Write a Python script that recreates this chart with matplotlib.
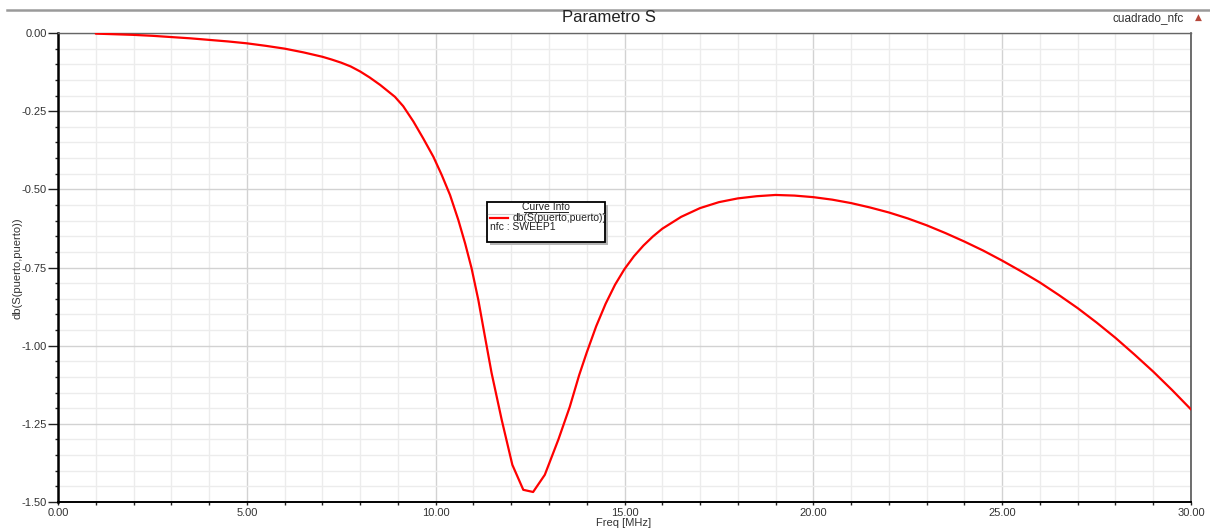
import matplotlib
matplotlib.use("Agg")
import matplotlib.pyplot as plt
from matplotlib.ticker import MultipleLocator, FormatStrFormatter
from matplotlib.patches import Rectangle
from matplotlib.lines import Line2D

plt.rcParams["font.family"] = ["Liberation Sans", "DejaVu Sans"]

# Return loss sweep (MHz, dB)
freq_mhz = [1.0, 1.5, 2.0, 2.5, 3.0, 3.5, 4.0, 4.5, 5.0, 5.5, 6.0, 6.5, 7.0,
            7.25, 7.5, 7.75, 8.0, 8.25, 8.53, 8.92, 9.14, 9.41, 9.67, 9.94,
            10.16, 10.38, 10.60, 10.78, 10.95, 11.13, 11.30, 11.48, 11.75,
            12.03, 12.32, 12.58, 12.89, 13.25, 13.55, 13.8, 14.0, 14.25, 14.5,
            14.75, 15.0, 15.25, 15.5, 15.75, 16.0, 16.5, 17.0, 17.5, 18.0,
            18.5, 19.0, 19.5, 20.0, 20.5, 21.0, 21.5, 22.0, 22.5, 23.0, 23.5,
            24.0, 24.5, 25.0, 25.5, 26.0, 26.5, 27.0, 27.5, 28.0, 28.5, 29.0,
            29.5, 30.0]
s11_db = [-0.002, -0.004, -0.006, -0.009, -0.013, -0.017, -0.022, -0.027,
          -0.033, -0.041, -0.050, -0.062, -0.076, -0.085, -0.095, -0.107,
          -0.123, -0.142, -0.166, -0.204, -0.234, -0.283, -0.337, -0.396,
          -0.454, -0.518, -0.598, -0.673, -0.752, -0.854, -0.968, -1.087,
          -1.238, -1.381, -1.461, -1.468, -1.413, -1.300, -1.196, -1.094,
          -1.022, -0.938, -0.866, -0.805, -0.755, -0.714, -0.680, -0.651,
          -0.626, -0.588, -0.560, -0.541, -0.529, -0.522, -0.518, -0.520,
          -0.525, -0.533, -0.544, -0.558, -0.574, -0.593, -0.615, -0.640,
          -0.667, -0.696, -0.728, -0.762, -0.798, -0.838, -0.880, -0.926,
          -0.975, -1.028, -1.083, -1.142, -1.204]

title_text = "Parametro S"
project_name = "cuadrado_nfc"
x_label = "Freq [MHz]"
y_label = "db(S(puerto,puerto))"
trace_name = "db(S(puerto,puerto))"
sweep_name = "nfc : SWEEP1"

W, H = 1210, 530
fig = plt.figure(figsize=(W / 100, H / 100), dpi=100)


def fx(px):
    return px / W


def fy(py):
    return 1 - py / H


ax = fig.add_axes([fx(58), fy(502), fx(1191) - fx(58), fy(33) - fy(502)])

ax.plot(freq_mhz, s11_db, color="#ff0000", lw=1.6, solid_joinstyle="round",
        solid_capstyle="round", zorder=3)

ax.set_xlim(0, 30)
ax.set_ylim(-1.5, 0)
ax.xaxis.set_major_locator(MultipleLocator(5))
ax.xaxis.set_minor_locator(MultipleLocator(1))
ax.yaxis.set_major_locator(MultipleLocator(0.25))
ax.yaxis.set_minor_locator(MultipleLocator(0.05))
ax.xaxis.set_major_formatter(FormatStrFormatter("%.2f"))
ax.yaxis.set_major_formatter(FormatStrFormatter("%.2f"))

ax.grid(which="major", color="#d2d2d2", lw=1.0, zorder=0)
ax.grid(which="minor", color="#ececec", lw=1.0, zorder=0)
ax.set_axisbelow(True)

ax.tick_params(axis="y", which="major", direction="out", length=7, width=1,
               color="#222222", labelsize=8, labelcolor="#333333", pad=1)
ax.tick_params(axis="y", which="minor", direction="out", length=2.5, width=1,
               color="#222222")
ax.tick_params(axis="x", which="both", direction="out", length=2.5, width=1,
               color="#222222", labelsize=8, labelcolor="#333333", pad=2)

for side, col, lw in [("left", "#000000", 1.8), ("bottom", "#000000", 1.4),
                      ("right", "#555555", 1.2), ("top", "#666666", 1.0)]:
    ax.spines[side].set_color(col)
    ax.spines[side].set_linewidth(lw)

# Header line, title and project tag
fig.add_artist(Line2D([fx(7), fx(1210)], [fy(10), fy(10)], color="#9a9a9a", lw=1.8))
fig.text(fx(609), fy(18), title_text, ha="center", va="center", fontsize=12, color="#222222")
fig.text(fx(1184), fy(18), project_name, ha="right", va="center", fontsize=8.5, color="#333333")
fig.text(fx(1198), fy(17), "\u25B2", ha="center", va="center", fontsize=6.5, color="#b5473a",
         family=["DejaVu Sans"])

# Axis labels
fig.text(fx(624), fy(523), x_label, ha="center", va="center", fontsize=8, color="#333333")
fig.text(fx(18), fy(268), y_label, ha="center", va="center", rotation=90, fontsize=8,
         color="#333333")

# Curve info box
bx0, bx1, by0, by1 = 487, 605, 202, 242
fig.add_artist(Rectangle((fx(bx0 + 3), fy(by1 + 3)), fx(bx1) - fx(bx0), fy(by0) - fy(by1),
                         transform=fig.transFigure, facecolor="#b5b5b5", edgecolor="none",
                         zorder=5))
fig.add_artist(Rectangle((fx(bx0), fy(by1)), fx(bx1) - fx(bx0), fy(by0) - fy(by1),
                         transform=fig.transFigure, facecolor="white", edgecolor="black",
                         lw=1.3, zorder=6))
fig.add_artist(Line2D([fx(bx0 + 1), fx(bx1 - 1)], [fy(213.5), fy(213.5)], color="#cfcfcf",
                      lw=0.8, zorder=7))
fig.text(fx(546), fy(206.5), "Curve Info", ha="center", va="center", fontsize=7.5,
         color="#222222", zorder=8)
fig.add_artist(Line2D([fx(524), fx(568)], [fy(211.5), fy(211.5)], color="#222222", lw=0.7,
                      zorder=8))
fig.add_artist(Line2D([fx(490), fx(508)], [fy(218), fy(218)], color="#ff0000", lw=1.6,
                      zorder=8))
fig.text(fx(513), fy(218), trace_name, ha="left", va="center", fontsize=7.5,
         color="#222222", zorder=8)
fig.text(fx(490), fy(227), sweep_name, ha="left", va="center", fontsize=7.5,
         color="#222222", zorder=8)

fig.savefig("out.png", dpi=100)
